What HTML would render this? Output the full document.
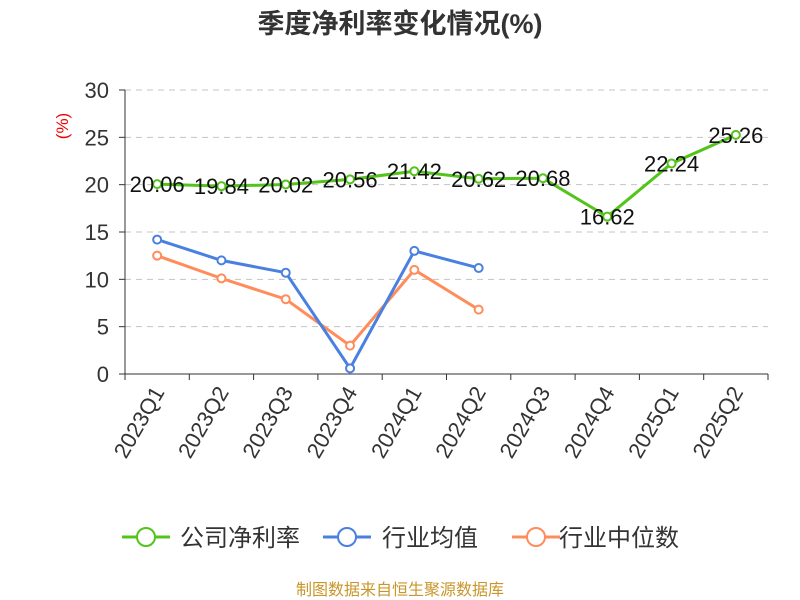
<!DOCTYPE html>
<html><head><meta charset="utf-8"><style>
body{margin:0;background:#fff;}
svg{display:block;font-family:"Liberation Sans","Noto Sans CJK SC",sans-serif;}
</style></head><body>
<svg id="chart" width="800" height="600" viewBox="0 0 800 600">
<text x="400" y="33" text-anchor="middle" font-size="27" font-weight="bold" fill="#333">季度净利率变化情况(%)</text>
<text transform="translate(68,126) rotate(-90)" text-anchor="middle" font-size="17" fill="#e00">(%)</text>
<g id="grid"></g><g id="axes"></g><g id="series"></g>
<g>
 <g>
  <line x1="122" y1="537" x2="170" y2="537" stroke="#52c41a" stroke-width="3"/><circle cx="146" cy="537" r="9" fill="#fff" stroke="#52c41a" stroke-width="2"/>
  <text x="180" y="546" font-size="24" fill="#333">公司净利率</text></g>
 <g>
  <line x1="323" y1="537" x2="371" y2="537" stroke="#4a80e0" stroke-width="3"/><circle cx="347" cy="537" r="9" fill="#fff" stroke="#4a80e0" stroke-width="2"/>
  <text x="382" y="546" font-size="24" fill="#333">行业均值</text></g>
 <g>
  <line x1="512" y1="537" x2="560" y2="537" stroke="#ff8c5a" stroke-width="3"/><circle cx="536" cy="537" r="9" fill="#fff" stroke="#ff8c5a" stroke-width="2"/>
  <text x="559" y="546" font-size="24" fill="#333">行业中位数</text></g>
</g>
<text x="400" y="595" text-anchor="middle" font-size="16" fill="#c8962a">制图数据来自恒生聚源数据库</text>
</svg>
<script>
const categories=["2023Q1","2023Q2","2023Q3","2023Q4","2024Q1","2024Q2","2024Q3","2024Q4","2025Q1","2025Q2"];
const companyValues=[20.06,19.84,20.02,20.56,21.42,20.62,20.68,16.62,22.24,25.26];
const industryAvg=[14.2,12.0,10.7,0.6,13.0,11.2];
const industryMedian=[12.5,10.1,7.9,3.0,11.0,6.8];
const yTicks=[0,5,10,15,20,25,30];
const NS="http://www.w3.org/2000/svg";
const L=125,R=768,T=90,B=374,yMax=30;
const band=(R-L)/categories.length;
const x=i=>L+band*(i+0.5);
const y=v=>B-(v/yMax)*(B-T);
function mk(tag,attrs,parent,text){const e=document.createElementNS(NS,tag);for(const k in attrs)e.setAttribute(k,attrs[k]);if(text!==undefined)e.textContent=text;parent.appendChild(e);return e;}
const grid=document.getElementById('grid'),axes=document.getElementById('axes'),ser=document.getElementById('series');
yTicks.forEach(t=>{
 if(t>0){const g=mk('line',{x1:L,x2:R,y1:y(t),y2:y(t),stroke:'#c4c4c4','stroke-dasharray':'6,5'},grid);
 
 }
 const tk=mk('line',{x1:L-6,x2:L,y1:y(t),y2:y(t),stroke:'#333'},axes);
 
 
 const lb=mk('text',{x:L-16,y:y(t)+8,'text-anchor':'end','font-size':22,fill:'#333'},axes,t);
 
 
});
const ya=mk('line',{x1:L,x2:L,y1:T,y2:B,stroke:'#333'},axes);


const xa=mk('line',{x1:L,x2:R,y1:B,y2:B,stroke:'#333'},axes);


for(let i=0;i<=categories.length;i++){const tk=mk('line',{x1:L+band*i,x2:L+band*i,y1:B,y2:B+6,stroke:'#333'},axes);
 
 }
categories.forEach((c,i)=>{
 const t=mk('text',{transform:`translate(${x(i)+8},${B+18}) rotate(-60)`,'text-anchor':'end','font-size':22,fill:'#333'},axes,c);
 
 
});
function drawSeries(vals,color,name,labels){
 const p=mk('polyline',{points:vals.map((v,i)=>x(i)+','+y(v)).join(' '),fill:'none',stroke:color,'stroke-width':3},ser);
 
 
 vals.forEach((v,i)=>{
  const c=mk('circle',{cx:x(i),cy:y(v),r:4,fill:'#fff',stroke:color,'stroke-width':2},ser);
  
  
 });
 if(labels)vals.forEach((v,i)=>{
  const t=mk('text',{x:x(i),y:y(v)+8,'text-anchor':'middle','font-size':22,fill:'#111'},ser,v.toFixed(2));
  
  
 });
}
drawSeries(industryMedian,'#ff8c5a','industry-median',false);
drawSeries(industryAvg,'#4a80e0','industry-avg',false);
drawSeries(companyValues,'#52c41a','company-net-margin',true);
</script>
</body></html>
